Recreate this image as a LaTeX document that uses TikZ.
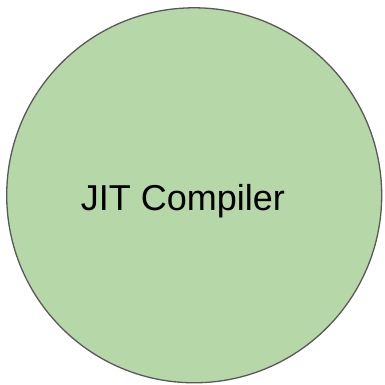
\documentclass[tikz,border=0pt]{standalone}
\usepackage{fontspec}
\setmainfont{Liberation Sans}
\usetikzlibrary{positioning}
\definecolor{SoftGreen}{HTML}{B6D7A8}
\definecolor{RimGray}{HTML}{595959}
\tikzset{
  stage/.style={circle,draw=RimGray,fill=SoftGreen,line width=1.3pt,
    minimum size=375pt,inner sep=0pt,align=center},
  caption/.style={font=\fontsize{36}{42}\selectfont,inner sep=0pt}
}

\begin{document}
\begin{tikzpicture}[x=1pt,y=1pt]
\useasboundingbox (0,0) rectangle (385,385);

\node[stage] (jit) at (194.2,189.7) {};
\node[caption,anchor=base] (label) at (183,174.5) {JIT Compiler};

\end{tikzpicture}
\end{document}
